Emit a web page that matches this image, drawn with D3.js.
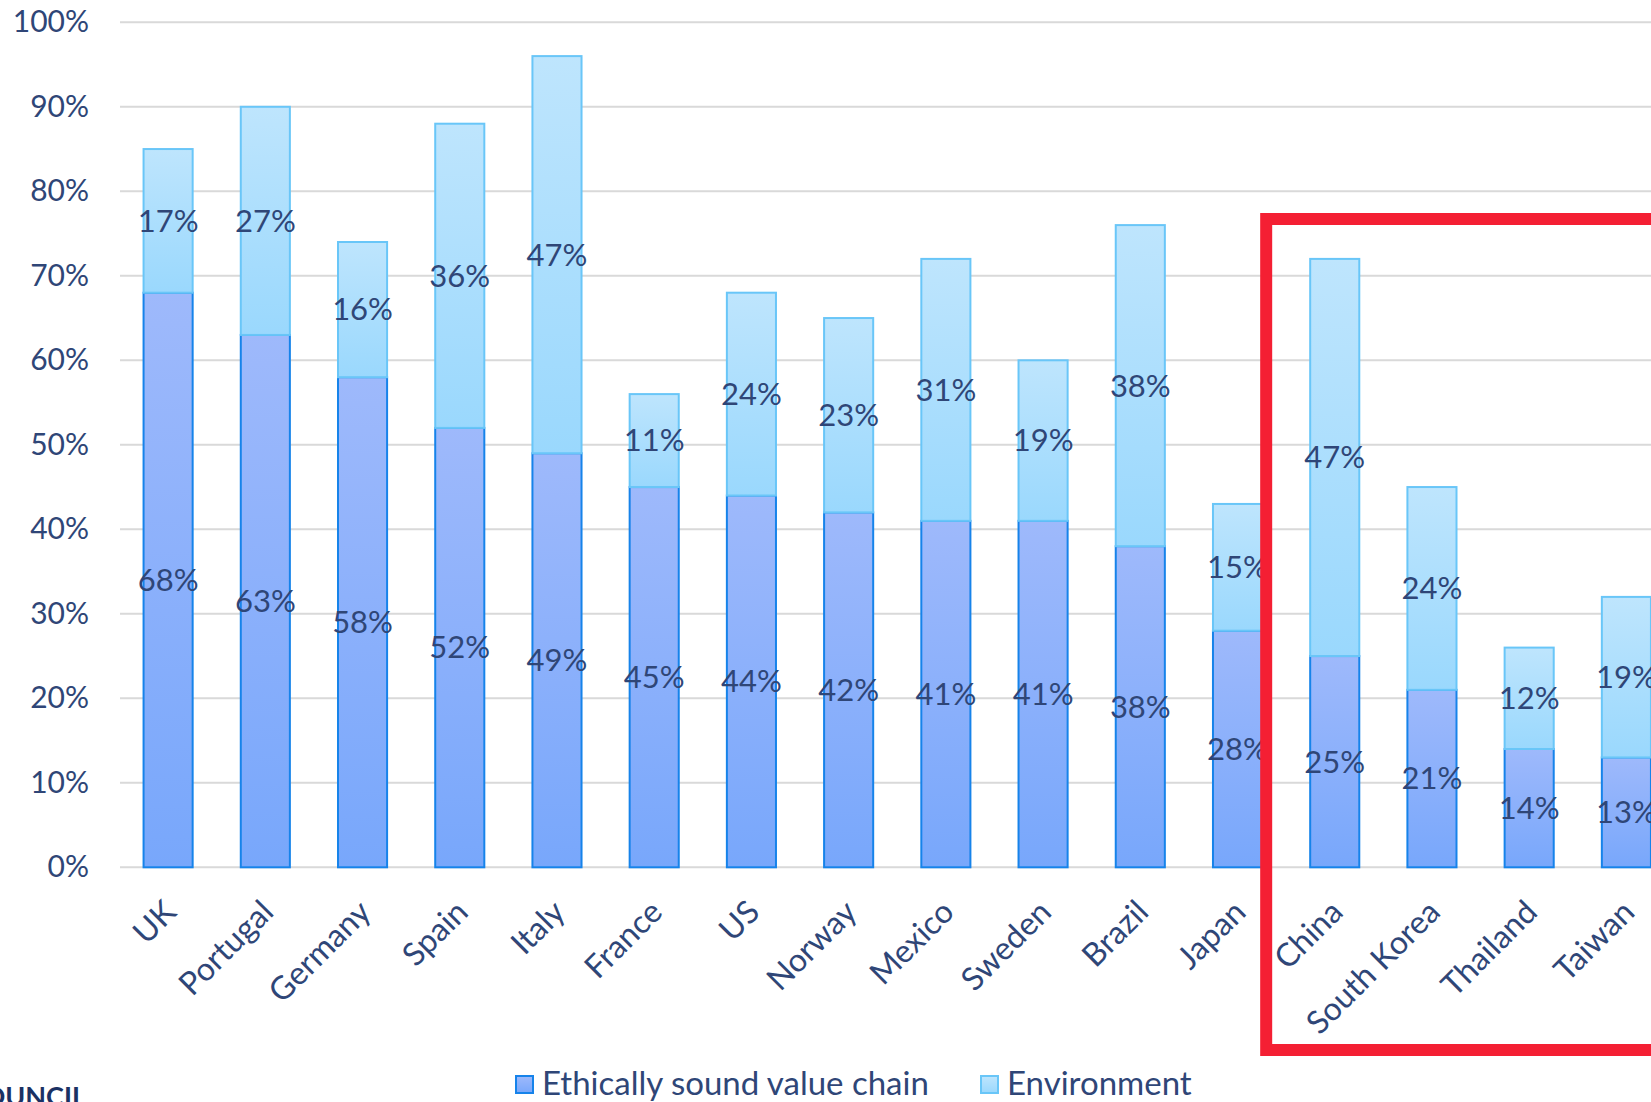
<!DOCTYPE html>
<html>
<head>
<meta charset="utf-8">
<script src="https://cdn.jsdelivr.net/npm/d3@7"></script>
<style>
  html, body { margin: 0; padding: 0; background: #fff; overflow: hidden; }
  svg { display: block; font-family: Lato, "Open Sans", sans-serif; }
</style>
</head>
<body>
<svg id="chart" width="1651" height="1102"></svg>
<script>
// Share of respondents per country, stacked by driver (percent)
const countries = ["UK", "Portugal", "Germany", "Spain", "Italy", "France", "US", "Norway",
  "Mexico", "Sweden", "Brazil", "Japan", "China", "South Korea", "Thailand", "Taiwan"];
const ethicalValues = [68, 63, 58, 52, 49, 45, 44, 42, 41, 41, 38, 28, 25, 21, 14, 13];
const environmentValues = [17, 27, 16, 36, 47, 11, 24, 23, 31, 19, 38, 15, 47, 24, 12, 19];
const yTicks = [0, 10, 20, 30, 40, 50, 60, 70, 80, 90, 100];
const seriesNames = ["Ethically sound value chain", "Environment"];
const highlighted = ["China", "South Korea", "Thailand", "Taiwan"];

const svg = d3.select("#chart");
const textColor = "#2f4677";

const defs = svg.append("defs");
function gradient(id, top, bottom) {
  const g = defs.append("linearGradient").attr("id", id)
    .attr("x1", 0).attr("y1", 0).attr("x2", 0).attr("y2", 1);
  g.append("stop").attr("offset", 0).attr("stop-color", top);
  g.append("stop").attr("offset", 1).attr("stop-color", bottom);
}
gradient("gradEthical", "#9eb9fb", "#78a7fb");
gradient("gradEnv", "#bee5fd", "#9ad8fd");

const styles = [
  { fill: "url(#gradEthical)", stroke: "#1683ea" },
  { fill: "url(#gradEnv)", stroke: "#69c6f8" }
];

const x = d3.scaleBand().domain(countries).range([119.5, 1675]).paddingInner(0.495).paddingOuter(0.2475);
const y = d3.scaleLinear().domain([0, 100]).range([867.3, 22.3]);

// Horizontal gridlines
svg.append("g").selectAll("line").data(yTicks).join("line")
  .attr("x1", 120).attr("x2", 1700)
  .attr("y1", d => y(d)).attr("y2", d => y(d))
  .attr("stroke", "#d9d9d9").attr("stroke-width", 2);

// Y axis tick labels
const yAxis = d3.axisLeft(y).tickValues(yTicks).tickFormat(d => d + "%").tickSize(0).tickPadding(0);
svg.append("g").attr("transform", "translate(89,0)").call(yAxis)
  .call(g => g.select(".domain").remove())
  .selectAll("text")
  .attr("font-size", 30).attr("font-family", "Lato, sans-serif").attr("font-weight", 400)
  .attr("fill", textColor);

// Stacked bars
const rows = countries.map((c, i) => ({ country: c, ethical: ethicalValues[i], env: environmentValues[i] }));
const stack = d3.stack().keys(["ethical", "env"])(rows);

stack.forEach((layer, si) => {
  const g = svg.append("g");
  g.selectAll("rect").data(layer).join("rect")
    .attr("x", d => x(d.data.country))
    .attr("width", x.bandwidth())
    .attr("y", d => y(d[1]))
    .attr("height", d => y(d[0]) - y(d[1]))
    .attr("fill", styles[si].fill)
    .attr("stroke", styles[si].stroke)
    .attr("stroke-width", 2);
});

// Value labels in the middle of each segment
stack.forEach((layer, si) => {
  svg.append("g").selectAll("text").data(layer).join("text")
    .attr("x", d => x(d.data.country) + x.bandwidth() / 2)
    .attr("y", d => y((d[0] + d[1]) / 2))
    .attr("dy", "0.35em")
    .attr("text-anchor", "middle")
    .attr("font-size", 31).attr("font-weight", 400)
    .attr("fill", textColor)
    .text(d => (d[1] - d[0]) + "%");
});

// Rotated category labels
svg.append("g").selectAll("text").data(countries).join("text")
  .attr("transform", d => `translate(${x(d) + x.bandwidth() / 2 + 10},914) rotate(-45)`)
  .attr("text-anchor", "end")
  .attr("font-size", 32).attr("font-weight", 400)
  .attr("fill", textColor)
  .text(d => d);

// Highlight frame around the Asian markets
const hx = x(highlighted[0]) - 44;
svg.append("rect")
  .attr("x", hx).attr("y", 219)
  .attr("width", 1700 - hx).attr("height", 831)
  .attr("fill", "none").attr("stroke", "#f41f33").attr("stroke-width", 12);

// Legend
const legend = svg.append("g").attr("transform", "translate(516,1076)");
const legendOffsets = [0, 465];
seriesNames.forEach((name, i) => {
  const item = legend.append("g").attr("transform", `translate(${legendOffsets[i]},0)`);
  item.append("rect").attr("x", 0).attr("y", 0).attr("width", 17).attr("height", 17)
    .attr("fill", styles[i].fill).attr("stroke", styles[i].stroke).attr("stroke-width", 2);
  item.append("text").attr("x", 26).attr("y", 19)
    .attr("font-size", 33).attr("font-weight", 400).attr("fill", textColor).text(name);
});

// Source organisation mark, bottom-left
svg.append("text").attr("x", 86).attr("y", 1106)
  .attr("text-anchor", "end").attr("font-size", 27).attr("font-weight", 700)
  .attr("fill", "#1b3163").text("COUNCIL");
</script>
</body>
</html>
